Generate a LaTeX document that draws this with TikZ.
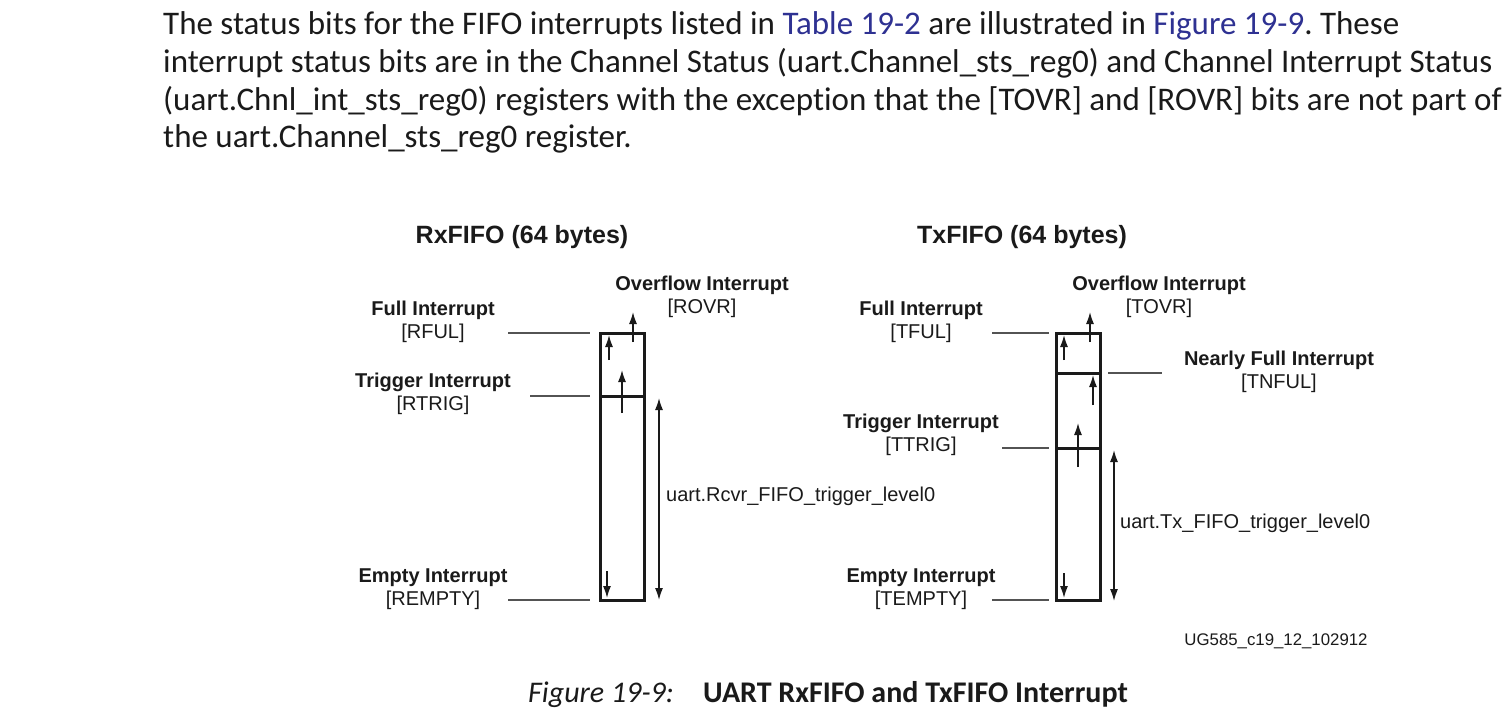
\documentclass[tikz,border=0pt]{standalone}
\usepackage{fontspec}
\setmainfont{Carlito}[Ligatures = NoCommon]
\newfontfamily\arial{Liberation Sans}
\usetikzlibrary{arrows.meta}
\frenchspacing
\definecolor{ink}{HTML}{1A1A1A}
\definecolor{linkblue}{HTML}{2E3192}
\tikzset{fifo/.style = {draw = ink, line width = 3pt, inner sep = 0pt, minimum width = 44pt, minimum height = 267pt}}
\tikzset{divider/.style = {draw = ink, line width = 3pt}}
\tikzset{lead/.style = {draw = ink!75, line width = 1.5pt}}
\tikzset{edge/.style = {->, > = {Latex[length = 12pt, width = 8pt]}, line width = 1.5pt, draw = ink}}
\tikzset{dedge/.style = {edge, <->}}
\tikzset{lbl/.style = {font = \arial\fontsize{20}{23.5}\selectfont, align = center, inner sep = 0pt, text = ink}}
\tikzset{ttl/.style = {font = \arial\bfseries\fontsize{25}{30}\selectfont, inner sep = 0pt, text = ink}}
\tikzset{para/.style = {font = \fontsize{33}{37.5}\selectfont, anchor = base west, inner sep = 0pt, text = ink}}
\tikzset{capt/.style = {font = \fontsize{30}{36}\selectfont, anchor = base west, inner sep = 0pt, text = ink}}

\begin{document}
\begin{tikzpicture}[x = 1pt, y = -1pt]
	\useasboundingbox[fill = white] (0,0) rectangle (1511,725);

	% text above the figure
	\node[para] (p1) at (163,35) {The status bits for the FIFO interrupts listed in \textcolor{linkblue}{Table 19-2} are illustrated in \textcolor{linkblue}{Figure 19-9}. These};
	\node[para] (p2) at (163,73) {interrupt status bits are in the Channel Status (uart.Channel\_sts\_reg0) and Channel Interrupt Status};
	\node[para] (p3) at (163,110) {(uart.Chnl\_int\_sts\_reg0) registers with the exception that the [TOVR] and [ROVR] bits are not part of};
	\node[para] (p4) at (163,147) {the uart.Channel\_sts\_reg0 register.};

	% RxFIFO
	\node[ttl] (rxt) at (522,237) {RxFIFO (64 bytes)};
	\node[fifo] (rx) at (622,466.5) {};
	\coordinate (rxd) at (600,396);
	\draw[divider] (rxd) -- (rxd -| rx.east);

	\node[lbl] (rful) at (433,322) {\textbf{Full Interrupt}\\{[RFUL]}};
	\node[lbl] (rtrig) at (433,394) {\textbf{Trigger Interrupt}\\{[RTRIG]}};
	\node[lbl] (rempty) at (433,589) {\textbf{Empty Interrupt}\\{[REMPTY]}};
	\node[lbl] (rovr) at (702,297) {\textbf{Overflow Interrupt}\\{[ROVR]}};
	\node[lbl, anchor = west] (rlvl) at (666,496) {uart.Rcvr\_FIFO\_trigger\_level0};

	\coordinate (rl1) at (508,333); \coordinate (rl2) at (590,333);
	\coordinate (rl3) at (530,396); \coordinate (rl4) at (590,396);
	\coordinate (rl5) at (508,600); \coordinate (rl6) at (590,600);
	\draw[lead] (rl1) -- (rl2);
	\draw[lead] (rl3) -- (rl4);
	\draw[lead] (rl5) -- (rl6);

	\coordinate (ra1) at (609,360); \coordinate (ra2) at (609,335);
	\coordinate (ra3) at (622,413); \coordinate (ra4) at (622,370);
	\coordinate (ra5) at (633,342); \coordinate (ra6) at (633,312);
	\coordinate (ra7) at (607,571); \coordinate (ra8) at (607,598);
	\coordinate (ra9) at (659,398); \coordinate (ra10) at (659,600);
	\draw[edge] (ra1) -- (ra2);
	\draw[edge] (ra3) -- (ra4);
	\draw[edge] (ra5) -- (ra6);
	\draw[edge] (ra7) -- (ra8);
	\draw[dedge] (ra9) -- (ra10);

	% TxFIFO
	\node[ttl] (txt) at (1022,237) {TxFIFO (64 bytes)};
	\node[fifo] (tx) at (1078,466.5) {};
	\coordinate (txd1) at (1056,373);
	\coordinate (txd2) at (1056,448);
	\draw[divider] (txd1) -- (txd1 -| tx.east);
	\draw[divider] (txd2) -- (txd2 -| tx.east);

	\node[lbl] (tful) at (921,322) {\textbf{Full Interrupt}\\{[TFUL]}};
	\node[lbl] (tovr) at (1159,297) {\textbf{Overflow Interrupt}\\{[TOVR]}};
	\node[lbl] (tnful) at (1279,372) {\textbf{Nearly Full Interrupt}\\{[TNFUL]}};
	\node[lbl] (ttrig) at (921,435) {\textbf{Trigger Interrupt}\\{[TTRIG]}};
	\node[lbl] (tempty) at (921,589) {\textbf{Empty Interrupt}\\{[TEMPTY]}};
	\node[lbl, anchor = west] (tlvl) at (1120,523) {uart.Tx\_FIFO\_trigger\_level0};

	\coordinate (tl1) at (992,333); \coordinate (tl2) at (1049,333);
	\coordinate (tl3) at (1108,373); \coordinate (tl4) at (1162,373);
	\coordinate (tl5) at (1002,448); \coordinate (tl6) at (1049,448);
	\coordinate (tl7) at (992,600); \coordinate (tl8) at (1049,600);
	\draw[lead] (tl1) -- (tl2);
	\draw[lead] (tl3) -- (tl4);
	\draw[lead] (tl5) -- (tl6);
	\draw[lead] (tl7) -- (tl8);

	\coordinate (ta1) at (1064,360); \coordinate (ta2) at (1064,335);
	\coordinate (ta3) at (1090,342); \coordinate (ta4) at (1090,312);
	\coordinate (ta5) at (1093,405); \coordinate (ta6) at (1093,375);
	\coordinate (ta7) at (1078,467); \coordinate (ta8) at (1078,423);
	\coordinate (ta9) at (1064,573); \coordinate (ta10) at (1064,598);
	\coordinate (ta11) at (1114,450); \coordinate (ta12) at (1114,601);
	\draw[edge] (ta1) -- (ta2);
	\draw[edge] (ta3) -- (ta4);
	\draw[edge] (ta5) -- (ta6);
	\draw[edge] (ta7) -- (ta8);
	\draw[edge] (ta9) -- (ta10);
	\draw[dedge] (ta11) -- (ta12);

	\node[lbl, font = \arial\fontsize{16.8}{20}\selectfont] (ug) at (1276,641) {UG585\_c19\_12\_102912};

	% caption
	\node[capt] (cap1) at (528,702) {\itshape Figure 19-9:};
	\node[capt] (cap2) at (703,702) {\bfseries UART RxFIFO and TxFIFO Interrupt};
\end{tikzpicture}
\end{document}
